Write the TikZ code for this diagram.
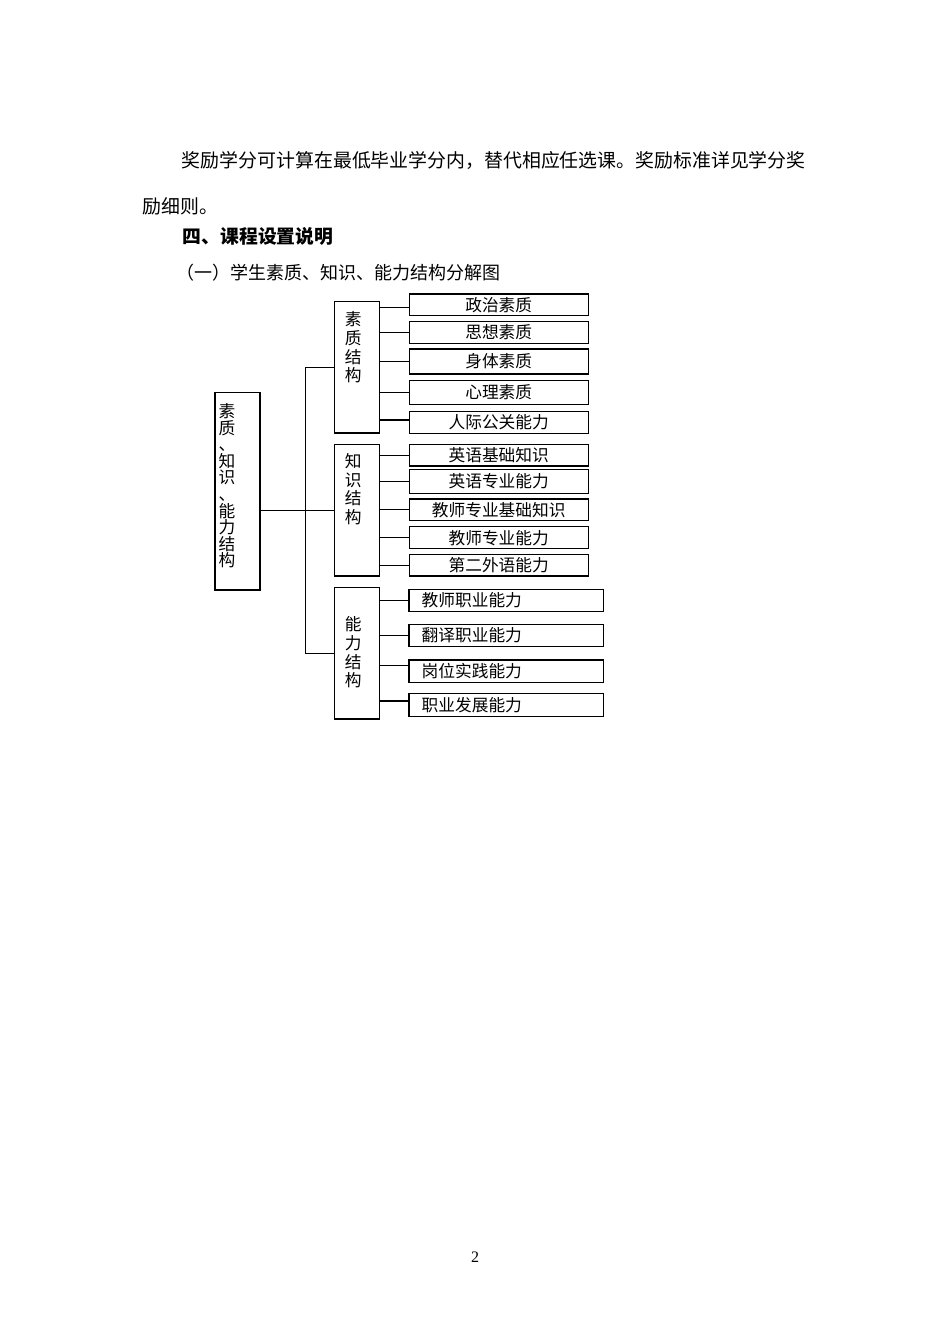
\documentclass[tikz,border=0pt]{standalone}
\usepackage{fontspec}
\newfontfamily\cjk{Noto Sans CJK SC}
\newfontfamily\numfont{Liberation Serif}
\tikzset{
  frame/.style={draw, line width=1.1pt, inner sep=0pt},
  leaf/.style={frame, minimum width=179.3pt, font={\cjk\fontsize{16.7}{18}\selectfont}},
  leafl/.style={frame, text width=168.9pt, inner xsep=12.7pt, inner ysep=0pt, align=left, font={\cjk\fontsize{16.7}{18}\selectfont}},
  group/.style={frame, minimum width=45pt, minimum height=131.5pt},
  vtext/.style={inner sep=0pt, align=center, font={\cjk\fontsize{16.7}{18.7}\selectfont}},
  body/.style={inner sep=0pt, anchor=west, font={\cjk\fontsize{18.9}{22}\selectfont}},
  wire/.style={line width=1.1pt},
}
\begin{document}
\begin{tikzpicture}[x=1pt,y=-1pt]
\fill[white] (0,0) rectangle (950,1344);
\useasboundingbox (0,0) rectangle (950,1344);

% body text
\node[body] (p1) at (181.7,160) {奖励学分可计算在最低毕业学分内，替代相应任选课。奖励标准详见学分奖};
\node[body] (p2) at (142.7,206.7) {励细则。};
\node[body, font={\cjk\bfseries\fontsize{18.8}{22}\selectfont}] (h1) at (182.7,236.7) {四、课程设置说明};
\node[body, font={\cjk\fontsize{18}{22}\selectfont}] (h2) at (176,272.7) {（一）学生素质、知识、能力结构分解图};

% main box
\node[frame, minimum width=45pt, minimum height=197.7pt] (root) at (237.5,491.15) {};
\node[inner sep=0pt, anchor=north west, align=left, font={\cjk\fontsize{16.7}{16.6}\selectfont}] (roott) at (218.3,403.3) {素\\质\\、\\知\\识\\、\\能\\力\\结\\构};

% group boxes
\node[group, minimum height=131.3pt] (sz) at (356.8,367.35) {};
\node[group, minimum height=131.7pt] (zs) at (356.8,510.15) {};
\node[group, minimum height=131.7pt] (nl) at (356.8,653.15) {};
\node[vtext, anchor=north] (szt) at (353.3,311.6) {素\\质\\结\\构};
\node[vtext, anchor=north] (zst) at (353.3,453.3) {知\\识\\结\\构};
\node[vtext, anchor=north] (nlt) at (353.3,616.6) {能\\力\\结\\构};

% leaves: quality
\node[leaf, minimum height=21.7pt] (a1) at (498.7,304.85) {政治素质};
\node[leaf, minimum height=21.6pt] (a2) at (498.7,332.5) {思想素质};
\node[leaf, minimum height=25pt] (a3) at (498.7,361.5) {身体素质};
\node[leaf, minimum height=23.6pt] (a4) at (498.7,392.5) {心理素质};
\node[leaf, minimum height=22.3pt] (a5) at (498.7,422.2) {人际公关能力};
% leaves: knowledge
\node[leaf, minimum height=21.7pt] (b1) at (498.7,455.15) {英语基础知识};
\node[leaf, minimum height=24pt] (b2) at (498.7,481.3) {英语专业能力};
\node[leaf, minimum height=21.7pt] (b3) at (498.7,509.85) {教师专业基础知识};
\node[leaf, minimum height=22pt] (b4) at (498.7,537.7) {教师专业能力};
\node[leaf, minimum height=21.7pt] (b5) at (498.7,565.15) {第二外语能力};
% leaves: ability
\node[leafl, minimum height=22.4pt] (c1) at (506.15,600.5) {教师职业能力};
\node[leafl, minimum height=22.4pt] (c2) at (506.15,635.5) {翻译职业能力};
\node[leafl, minimum height=22.3pt] (c3) at (506.15,671.15) {岗位实践能力};
\node[leafl, minimum height=23.4pt] (c4) at (506.15,705) {职业发展能力};

% page number
\node[inner sep=0pt, font={\numfont\fontsize{16}{18}\selectfont}] (pg) at (475,1256.7) {2};

% attachment points on leaves
\coordinate (a1w) at ([yshift=-2.5pt]a1.west);
\coordinate (a5w) at ([yshift=2.2pt]a5.west);
\coordinate (c3w) at ([yshift=5.5pt]c3.west);
\coordinate (c4w) at ([yshift=4pt]c4.west);

% trunk
\coordinate (tk) at (305.3,0);
\draw[wire] (root.east |- zs.west) -- (zs.west);
\draw[wire] (sz.west) -| (tk |- nl.west) -- (nl.west);

% group to leaves
\draw[wire] (sz.east |- a1w) -- (a1w);
\draw[wire] (sz.east |- a2.west) -- (a2.west);
\draw[wire] (sz.east |- a3.west) -- (a3.west);
\draw[wire] (sz.east |- a4.west) -- (a4.west);
\draw[wire] (sz.east |- a5w) -- (a5w);
\draw[wire] (zs.east |- b1.west) -- (b1.west);
\draw[wire] (zs.east |- b2.west) -- (b2.west);
\draw[wire] (zs.east |- b3.west) -- (b3.west);
\draw[wire] (zs.east |- b4.west) -- (b4.west);
\draw[wire] (zs.east |- b5.west) -- (b5.west);
\draw[wire] (nl.east |- c1.west) -- (c1.west);
\draw[wire] (nl.east |- c2.west) -- (c2.west);
\draw[wire] (nl.east |- c3w) -- (c3w);
\draw[wire] (nl.east |- c4w) -- (c4w);
\end{tikzpicture}
\end{document}
